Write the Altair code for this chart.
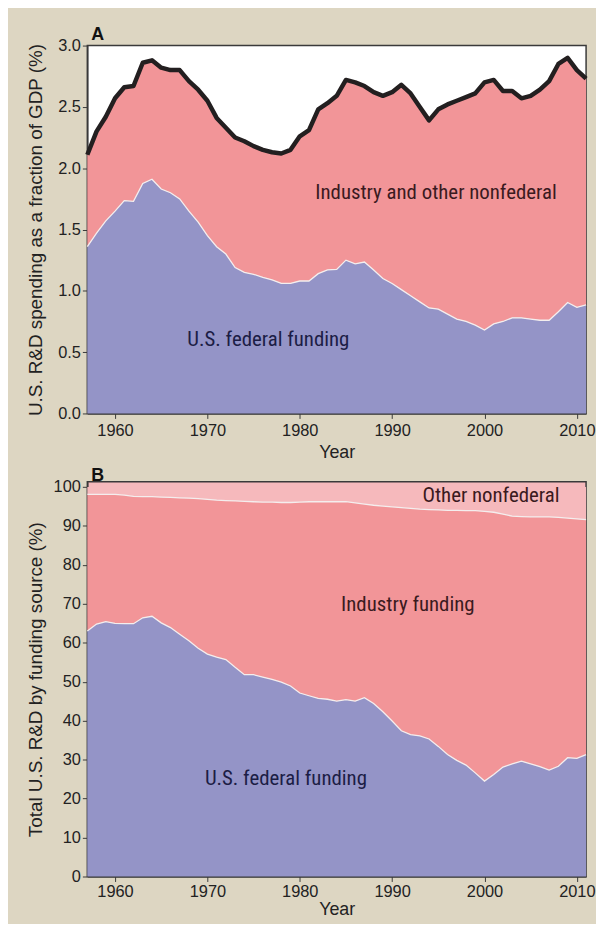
import altair as alt
import pandas as pd

years = list(range(1957, 2012))

# Panel A: R&D spending as % of GDP
total_gdp = [2.11, 2.30, 2.42, 2.57, 2.66, 2.67, 2.86, 2.88, 2.82, 2.80,
             2.80, 2.71, 2.64, 2.55, 2.41, 2.33, 2.25, 2.22, 2.18, 2.15,
             2.13, 2.12, 2.15, 2.26, 2.31, 2.48, 2.53, 2.59, 2.72, 2.70,
             2.67, 2.62, 2.59, 2.62, 2.68, 2.61, 2.50, 2.39, 2.48, 2.52,
             2.55, 2.58, 2.61, 2.70, 2.72, 2.63, 2.63, 2.57, 2.59, 2.64,
             2.71, 2.85, 2.90, 2.80, 2.73]
federal_gdp = [1.36, 1.47, 1.57, 1.65, 1.735, 1.73, 1.875, 1.91, 1.83, 1.80,
               1.75, 1.65, 1.56, 1.45, 1.36, 1.30, 1.19, 1.15, 1.135, 1.11,
               1.09, 1.06, 1.06, 1.08, 1.08, 1.14, 1.17, 1.175, 1.25, 1.22,
               1.235, 1.17, 1.10, 1.06, 1.01, 0.96, 0.91, 0.86, 0.85, 0.81,
               0.77, 0.75, 0.72, 0.68, 0.73, 0.75, 0.78, 0.78, 0.77, 0.76,
               0.76, 0.83, 0.905, 0.865, 0.885]

# Panel B: share of total R&D by funding source (%)
federal_pct = [63.0, 64.8, 65.4, 65.0, 64.9, 64.9, 66.4, 66.8, 65.1, 63.9,
               62.2, 60.5, 58.6, 57.1, 56.3, 55.7, 53.7, 51.8, 51.8, 51.2,
               50.6, 49.9, 48.9, 47.1, 46.4, 45.7, 45.5, 45.0, 45.4, 45.0,
               45.9, 44.4, 42.3, 39.9, 37.4, 36.4, 36.1, 35.3, 33.4, 31.3,
               29.8, 28.6, 26.6, 24.5, 26.2, 28.1, 28.9, 29.6, 28.9, 28.2,
               27.3, 28.3, 30.5, 30.3, 31.3]
other_pct = [1.9, 1.9, 1.9, 1.9, 2.1, 2.4, 2.5, 2.5, 2.6, 2.7,
             2.8, 2.9, 3.0, 3.2, 3.4, 3.5, 3.6, 3.7, 3.8, 3.9,
             3.9, 4.0, 4.0, 3.9, 3.8, 3.8, 3.8, 3.8, 3.8, 4.1,
             4.4, 4.7, 4.9, 5.1, 5.3, 5.5, 5.7, 5.8, 5.9, 6.0,
             6.0, 6.1, 6.1, 6.3, 6.5, 7.0, 7.5, 7.6, 7.7, 7.7,
             7.7, 7.8, 8.0, 8.2, 8.4]

x_ticks = [1960, 1970, 1980, 1990, 2000, 2010]
ya_ticks = [0.0, 0.5, 1.0, 1.5, 2.0, 2.5, 3.0]
yb_ticks = [0, 10, 20, 30, 40, 50, 60, 70, 80, 90, 100]

labels_a = ["Industry and other nonfederal", "U.S. federal funding"]
labels_a_x = [1994.75, 1976.6]
labels_a_y = [1.80, 0.60]
labels_a_color = ["#3a1a20", "#1c1d45"]

labels_b = ["Other nonfederal", "Industry funding", "U.S. federal funding"]
labels_b_x = [2000.7, 1991.7, 1978.5]
labels_b_y = [97.7, 69.8, 24.9]
labels_b_color = ["#3a1a20", "#3a1a20", "#1c1d45"]

BLUE = "#9494c7"
PINK = "#f29598"
LIGHT = "#f6b9bc"
BEIGE = "#ddd6c2"
AXIS = "#3a3a3a"
NARROW = "Liberation Sans Narrow, Roboto Condensed, DejaVu Sans Condensed, Roboto, sans-serif"
REG = "Liberation Sans, Arial, sans-serif"

W = 503
HA = 371
HB = 398

df_a = pd.DataFrame({"Year": years, "Total": total_gdp, "Federal": federal_gdp})
df_b = pd.DataFrame({"Year": years, "Federal": federal_pct, "Other": other_pct})
df_b["IndTop"] = 100 - df_b["Other"]
df_b["Top"] = 100
lab_a = pd.DataFrame({"Year": labels_a_x, "y": labels_a_y, "t": labels_a, "c": labels_a_color})
lab_b = pd.DataFrame({"Year": labels_b_x, "y": labels_b_y, "t": labels_b, "c": labels_b_color})

x_scale = alt.Scale(domain=[1957, 2011], nice=False, zero=False)


def x_enc(lp, tp):
    return alt.X(
        "Year:Q", scale=x_scale,
        axis=alt.Axis(values=x_ticks, format="d", title="Year", grid=False,
                      labelPadding=lp, titlePadding=tp),
    )


ya_scale = alt.Scale(domain=[0, 3], nice=False)
ya_axis = alt.Axis(values=ya_ticks, format=".1f", grid=False,
                   title="U.S. R&D spending as a fraction of GDP (%)",
                   titleX=-52, titleY=HA / 2, titleBaseline="middle", titleFontSize=19)

xa = x_enc(4, 5)
base_a = alt.Chart(df_a)
a_blue = base_a.mark_area(color=BLUE, opacity=1).encode(
    x=xa, y=alt.Y("Federal:Q", scale=ya_scale, axis=ya_axis))
a_pink = base_a.mark_area(color=PINK, opacity=1).encode(
    x=xa, y=alt.Y("Total:Q", scale=ya_scale, axis=ya_axis), y2="Federal:Q")
a_fed_line = base_a.mark_line(color="#f4eeee", strokeWidth=1.3).encode(
    x=xa, y=alt.Y("Federal:Q", scale=ya_scale, axis=ya_axis))
a_tot_line = base_a.mark_line(color="#231f20", strokeWidth=4.5, strokeJoin="round").encode(
    x=xa, y=alt.Y("Total:Q", scale=ya_scale, axis=ya_axis))
a_text = alt.Chart(lab_a).mark_text(fontSize=21, font=NARROW, align="center", baseline="middle").encode(
    x=xa,
    y=alt.Y("y:Q", scale=ya_scale, axis=ya_axis),
    text="t:N",
    color=alt.Color("c:N", scale=None),
)

panel_a = alt.layer(a_pink, a_blue, a_fed_line, a_tot_line, a_text).properties(
    width=W, height=HA,
    title=alt.TitleParams("A", anchor="start", frame="group", dx=4, fontSize=18,
                          fontWeight="bold", font=REG, color="#111", offset=-6),
    view=alt.ViewBackground(fill="white", stroke=AXIS, strokeWidth=1.5),
)

yb_scale = alt.Scale(domain=[0, 101.3], nice=False)
yb_axis = alt.Axis(values=yb_ticks, format="d", grid=False,
                   title="Total U.S. R&D by funding source (%)",
                   titleX=-52, titleY=HB / 2, titleBaseline="middle", titleFontSize=19)

xb = x_enc(2, 1)
base_b = alt.Chart(df_b)
b_light = base_b.mark_area(color=LIGHT, opacity=1).encode(
    x=xb, y=alt.Y("Top:Q", scale=yb_scale, axis=yb_axis), y2="IndTop:Q")
b_pink = base_b.mark_area(color=PINK, opacity=1).encode(
    x=xb, y=alt.Y("IndTop:Q", scale=yb_scale, axis=yb_axis), y2="Federal:Q")
b_blue = base_b.mark_area(color=BLUE, opacity=1).encode(
    x=xb, y=alt.Y("Federal:Q", scale=yb_scale, axis=yb_axis))
b_line1 = base_b.mark_line(color="#f4eeee", strokeWidth=1.3).encode(
    x=xb, y=alt.Y("IndTop:Q", scale=yb_scale, axis=yb_axis))
b_line2 = base_b.mark_line(color="#f4eeee", strokeWidth=1.3).encode(
    x=xb, y=alt.Y("Federal:Q", scale=yb_scale, axis=yb_axis))
b_text = alt.Chart(lab_b).mark_text(fontSize=21, font=NARROW, align="center", baseline="middle").encode(
    x=xb,
    y=alt.Y("y:Q", scale=yb_scale, axis=yb_axis),
    text="t:N",
    color=alt.Color("c:N", scale=None),
)

panel_b = alt.layer(b_light, b_pink, b_blue, b_line1, b_line2, b_text).properties(
    width=W, height=HB,
    title=alt.TitleParams("B", anchor="start", frame="group", dx=4, fontSize=18,
                          fontWeight="bold", font=REG, color="#111", offset=-6),
    view=alt.ViewBackground(fill=LIGHT, stroke=AXIS, strokeWidth=1.5),
)

chart = alt.vconcat(panel_a, panel_b, spacing=3).properties(
    background=BEIGE,
    padding={"left": 18, "top": 13, "right": 0, "bottom": 0},
).configure_axis(
    domainColor=AXIS, domainWidth=1.5, tickColor=AXIS, tickSize=5, tickWidth=1,
    labelFont=REG, labelFontSize=16.5, labelColor="#222",
    titleFont=REG, titleFontSize=18, titleFontWeight="normal", titleColor="#222",
)

chart.save("out.html", embed_options={"renderer": "svg", "actions": False})
